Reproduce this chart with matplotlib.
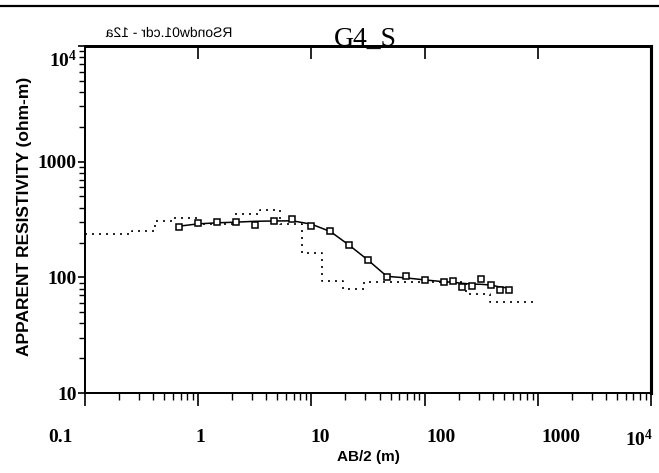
import matplotlib
matplotlib.use("Agg")
import matplotlib.pyplot as plt
from matplotlib import ticker, patheffects
from matplotlib.transforms import Affine2D, ScaledTranslation

# observed sounding (AB/2 in m, apparent resistivity in ohm-m)
ab2 = [0.68, 1.0, 1.47, 2.15, 3.16, 4.64, 6.8, 10, 14.7, 21.5, 31.6,
       46.4, 68, 100, 147, 178, 215, 261, 316, 385, 465, 562]
rho_obs = [274, 293, 299, 303, 285, 305, 317, 279, 250, 189, 141,
           101, 103, 95, 91, 93.5, 83, 84.6, 97, 85.3, 77.6, 77.2]
# fitted curve at the same spacings
rho_fit = [277, 290, 296, 300, 305, 307, 308, 288, 249, 190, 141,
           102, 99, 95, 91.7, 90.6, 88.8, 87.5, 87, 85.8, 82.4, 80.9]

# dotted staircase (step starts)
step_x = [0.1, 0.26, 0.415, 0.60, 0.975, 2.11, 3.52, 5.28, 8.27, 12.4,
          19.0, 29.2, 232, 378, 984]
step_rho = [235, 253, 308, 324, 289, 351, 382, 287, 162, 93,
            79, 92, 72.4, 61.5, 61.5]

x_ticks = [0.1, 1, 10, 100, 1000, 1e4]
x_ticklabels = ["0.1", "1", "10", "100", "1000", r"$\mathbf{10^{4}}$"]
y_ticks = [10, 100, 1000, 1e4]
y_ticklabels = ["10", "100", "1000", r"$\mathbf{10^{4}}$"]


class MirrorText(patheffects.AbstractPathEffect):
    """draw text flipped left-right around its own centre"""
    def draw_path(self, renderer, gc, tpath, affine, rgbFace=None):
        ext = tpath.get_extents(affine)
        cx = (ext.x0 + ext.x1) / 2
        flip = Affine2D().translate(-cx, 0).scale(-1, 1).translate(cx, 0)
        renderer.draw_path(gc, tpath, affine + flip, rgbFace)


plt.rcParams["mathtext.fontset"] = "custom"
plt.rcParams["mathtext.rm"] = "Liberation Serif"
plt.rcParams["mathtext.bf"] = "Liberation Serif:bold"

serif = "Liberation Serif"
sans = "Liberation Sans"
W, H = 659, 473

fig = plt.figure(figsize=(W / 100, H / 100), dpi=100)
ax = fig.add_axes([85 / W, 1 - 393 / H, 566 / W, 347 / H])

ax.plot(step_x, step_rho, color="black", lw=1.2, drawstyle="steps-post",
        linestyle=(0, (1.2, 3.0)))
ax.plot(ab2, rho_fit, color="black", lw=1.1)
ax.plot(ab2, rho_obs, linestyle="none", marker="s", markersize=5,
        markerfacecolor="white", markeredgecolor="black", markeredgewidth=1.1)

ax.set_xscale("log")
ax.set_yscale("log")
ax.set_xlim(0.1, 1e4)
ax.set_ylim(10, 1e4)

ax.set_xticks(x_ticks)
ax.set_xticklabels(x_ticklabels)
ax.set_yticks(y_ticks)
ax.set_yticklabels(y_ticklabels)
ax.xaxis.set_minor_locator(ticker.LogLocator(base=10, subs=range(2, 10), numticks=20))
ax.yaxis.set_minor_locator(ticker.LogLocator(base=10, subs=range(2, 10), numticks=20))
ax.xaxis.set_minor_formatter(ticker.NullFormatter())
ax.yaxis.set_minor_formatter(ticker.NullFormatter())

ax.tick_params(axis="x", which="major", direction="out", length=9, width=1.2, pad=17)
ax.tick_params(axis="x", which="minor", direction="out", length=5, width=1.0)
ax.tick_params(axis="y", which="major", direction="out", length=5, width=1.2, pad=1)
ax.tick_params(axis="y", which="minor", direction="out", length=4, width=1.0)
for lab in ax.get_xticklabels() + ax.get_yticklabels():
    lab.set_fontfamily(serif)
    lab.set_fontweight("bold")
    lab.set_fontsize(14)

# the scanned labels sit a little off their ticks
x_label_shift = [-25, 2, 9, 16, 23, -12]
for lab, dx in zip(ax.get_xticklabels(), x_label_shift):
    lab.set_transform(lab.get_transform() + ScaledTranslation(dx / 100, 0, fig.dpi_scale_trans))
ax.get_yticklabels()[-1].set_transform(
    ax.get_yticklabels()[-1].get_transform() + ScaledTranslation(0, -12 / 100, fig.dpi_scale_trans))

# major ticks on the top edge, pointing in
top = ax.twiny()
top.set_xscale("log")
top.set_xlim(ax.get_xlim())
top.set_xticks(x_ticks)
top.xaxis.set_minor_locator(ticker.NullLocator())
top.tick_params(axis="x", which="major", direction="in", length=9, width=1.2, labeltop=False)

for a in (ax, top):
    a.spines["left"].set_linewidth(1.3)
    a.spines["bottom"].set_linewidth(1.3)
    a.spines["top"].set_linewidth(2.0)
    a.spines["right"].set_linewidth(2.2)

ax.set_xlabel("AB/2 (m)", fontfamily=sans, fontweight="bold", fontsize=11, labelpad=0)
ax.set_ylabel("APPARENT RESISTIVITY (ohm-m)", fontfamily=sans, fontweight="bold",
              fontsize=12.5, labelpad=4)
ax.yaxis.set_label_coords(-0.112 + 10 / 566, 0.51)

fig.text(365 / W, 1 - 46 / H, "G4_S", fontfamily=serif, fontsize=20,
         ha="center", va="baseline")
fig.text(168 / W, 1 - 33 / H, "RSondw01.cdr - 12a", fontfamily=sans, fontsize=10,
         ha="center", va="center", path_effects=[MirrorText()])

fig.add_artist(plt.Line2D([0, 1], [1 - 6 / H, 1 - 6 / H], transform=fig.transFigure,
                          color="black", lw=1.6))

fig.savefig("out.png", dpi=100)
